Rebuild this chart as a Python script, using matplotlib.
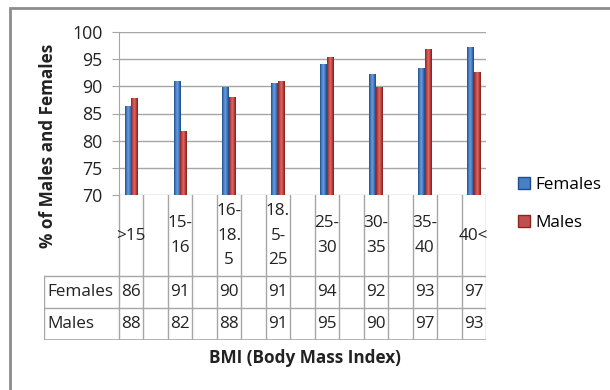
import numpy as np
import matplotlib
matplotlib.use("Agg")
from matplotlib import pyplot as plt
from matplotlib.patches import Patch, Rectangle
from matplotlib.colors import LinearSegmentedColormap

plt.rcParams['font.family'] = ['Open Sans', 'DejaVu Sans']

# data
categories = [">15", "15-\n16", "16-\n18.\n5", "18.\n5-\n25", "25-\n30", "30-\n35", "35-\n40", "40<"]
females = [86.4, 91.0, 89.9, 90.7, 94.1, 92.3, 93.3, 97.3]
males = [87.9, 81.8, 88.1, 90.9, 95.4, 89.9, 96.8, 92.6]
females_table = [86, 91, 90, 91, 94, 92, 93, 97]
males_table = [88, 82, 88, 91, 95, 90, 97, 93]

W, H = 610, 390
fs = 12.3
tc = "#222222"
fig = plt.figure(figsize=(W / 100, H / 100), dpi=100)

# outer chart border
fig.add_artist(Rectangle((10 / W, -0.05), 1.1, (H - 8) / H + 0.05, transform=fig.transFigure,
                         fill=False, edgecolor="#8c8c8c", linewidth=2))

# 15 columns: data in odd columns, empty columns in between
ncols = 2 * len(categories) - 1
pos = np.arange(len(categories)) * 2 + 0.5

ax = fig.add_axes([119 / W, (H - 195) / H, (486 - 119) / W, (195 - 32) / H])
ax.set_yticks(range(70, 101, 5))
ax.set_xticks([])
ax.grid(axis="y", color="#a6a6a6", linewidth=1)
ax.set_axisbelow(True)
for s in ["top", "right", "bottom"]:
    ax.spines[s].set_visible(False)
ax.spines["left"].set_color("#a6a6a6")
ax.tick_params(axis="y", length=5, color="#a6a6a6", labelsize=fs + 0.5, pad=7, labelcolor=tc)

bw = 0.27
blue_cm = LinearSegmentedColormap.from_list("b", ["#1f4e8c", "#4a7fc4", "#6b9be0", "#3f73b8", "#1c467e"])
red_cm = LinearSegmentedColormap.from_list("r", ["#8c2421", "#c24542", "#de6a66", "#b83d3a", "#7e1f1c"])
grad = np.linspace(0, 1, 64).reshape(1, -1)
for vals, off, cm, col in [(females, -bw / 2, blue_cm, "#4a7fc4"), (males, bw / 2, red_cm, "#c0504d")]:
    bars = ax.bar(pos + off, np.array(vals) - 70, bw, bottom=70, color=col, zorder=2)
    for b in bars:
        x0 = b.get_x()
        im = ax.imshow(grad, extent=[x0, x0 + bw, 70, 70 + b.get_height()], aspect="auto",
                       cmap=cm, zorder=3)
        im.set_clip_path(b)
ax.set_xlim(0, ncols)
ax.set_ylim(70, 100)

fig.text(48 / W, 1 - 146 / H, "% of Males and Females", rotation=90, ha="center", va="center",
         fontsize=fs, fontweight="bold", color=tc)

# data table below the plot
tab = fig.add_axes([44 / W, (H - 340) / H, (486 - 44) / W, (340 - 195) / H])
lab_w = (119 - 44) / ((486 - 119) / ncols)
tab.set_xlim(-lab_w, ncols)
tab.set_ylim(0, 340 - 195)
tab.axis("off")
lc = "#a6a6a6"
row_top = 340 - 276
row_mid = 340 - 308
for i in range(ncols + 1):
    tab.plot([i, i], [0, 145], color=lc, linewidth=1)
tab.plot([-lab_w, -lab_w], [0, row_top], color=lc, linewidth=1)
for yy in [0, row_mid, row_top]:
    tab.plot([-lab_w, ncols], [yy, yy], color=lc, linewidth=1.2 if yy == 0 else 1)

for p, c, f, m in zip(pos, categories, females_table, males_table):
    tab.text(p, (145 + row_top) / 2, c, ha="center", va="center", fontsize=fs, linespacing=1.7,
             color=tc)
    tab.text(p, (row_top + row_mid) / 2, str(f), ha="center", va="center", fontsize=fs, color=tc)
    tab.text(p, row_mid / 2, str(m), ha="center", va="center", fontsize=fs, color=tc)
tab.text(-lab_w + 0.12, (row_top + row_mid) / 2, "Females", ha="left", va="center", fontsize=fs, color=tc)
tab.text(-lab_w + 0.12, row_mid / 2, "Males", ha="left", va="center", fontsize=fs, color=tc)

fig.text(305 / W, 1 - 358 / H, "BMI (Body Mass Index)", ha="center", va="center",
         fontsize=fs, fontweight="bold", color=tc)

handles = [Patch(facecolor="#4a7fc4", edgecolor="#1f4e8c", label="Females"),
           Patch(facecolor="#c0504d", edgecolor="#8c2421", label="Males")]
fig.legend(handles=handles, loc="center left", bbox_to_anchor=(503 / W, 1 - 204 / H), frameon=False,
           fontsize=fs, handlelength=0.7, handleheight=0.7, handletextpad=0.3, labelspacing=1.3)

fig.savefig("out.png", dpi=100)
